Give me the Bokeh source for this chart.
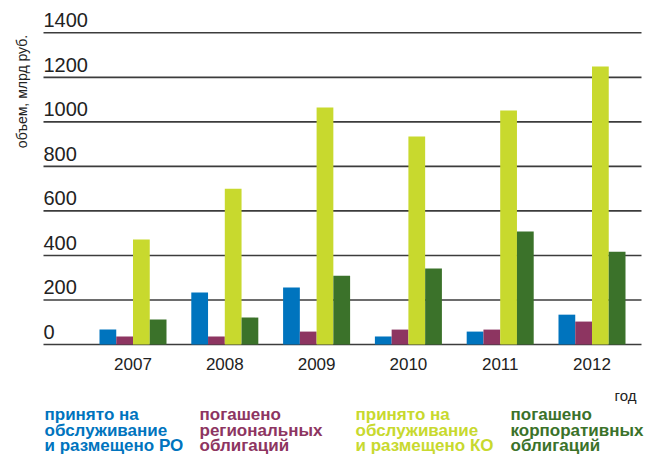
import math
from bokeh.plotting import figure
from bokeh.models import Range1d
from bokeh.core.properties import value
from bokeh.embed import file_html
from bokeh.resources import INLINE

# ---- data ----
years = ["2007", "2008", "2009", "2010", "2011", "2012"]
placed_ro = [67, 233, 256, 36, 58, 134]        # принято на обслуживание и размещено РО
repaid_ro = [36, 36, 58, 67, 67, 103]          # погашено региональных облигаций
placed_ko = [472, 700, 1065, 934, 1051, 1249]  # принято на обслуживание и размещено КО
repaid_ko = [112, 121, 309, 341, 507, 417]     # погашено корпоративных облигаций
y_ticks = [0, 200, 400, 600, 800, 1000, 1200, 1400]
y_tick_labels = ["0", "200", "400", "600", "800", "1000", "1200", "1400"]
legend_lines = [
    ["принято на", "обслуживание", "и размещено РО"],
    ["погашено", "региональных", "облигаций"],
    ["принято на", "обслуживание", "и размещено КО"],
    ["погашено", "корпоративных", "облигаций"],
]
colors = ["#0074BE", "#8D3561", "#C8D92E", "#3B722A"]
y_title = "объем, млрд руб."
x_title = "год"

W, H = 654, 457
# plot area mapping (pixels): value 0 at y=344, 1400 at y=32.3; group 0 at x=132.5, step 91.8
SX = 91.8          # px per category step
SY = 311.7 / 1400  # px per unit
X_AT0, Y_AT0 = 132.5, 344.0
x0 = -X_AT0 / SX
x1 = (W - X_AT0) / SX
y0 = -(H - Y_AT0) / SY
y1 = Y_AT0 / SY

p = figure(width=W, height=H, output_backend="svg", toolbar_location=None,
           x_range=Range1d(x0, x1), y_range=Range1d(y0, y1), min_border=0)
p.outline_line_color = None
p.background_fill_color = "white"
p.border_fill_color = "white"
p.xaxis.visible = False
p.yaxis.visible = False
p.xgrid.visible = False
p.ygrid.visible = False

def px2x(px):
    return (px - X_AT0) / SX

def py2y(py):
    return (Y_AT0 - py) / SY

def base(py, size):
    # compensate the renderer's baseline placement (text sits ~1/3 em low)
    return py2y(py - 0.33 * size)

# grid lines (from 43px to 641px)
gl, gr = px2x(43), px2x(641)
p.segment(x0=[gl] * len(y_ticks), x1=[gr] * len(y_ticks), y0=y_ticks, y1=y_ticks,
          line_color="#3c3c3c", line_width=1.6)

# bars
bw = 0.1825
xs = list(range(len(years)))
for k, (vals, c) in enumerate(zip([placed_ro, repaid_ro, placed_ko, repaid_ko], colors)):
    off = (k - 1.5) * bw
    p.vbar(x=[x + off for x in xs], top=vals, bottom=0, width=bw,
           fill_color=c, line_color=None)

# y tick labels sitting above gridlines
lift = (6 + 0.33 * 20) / SY
p.text(x=[gl] * len(y_ticks), y=[t + lift for t in y_ticks], text=y_tick_labels,
       text_font=value("Liberation Sans"), text_font_size="20px",
       text_color="#222222", text_baseline="alphabetic", text_align="left")

# year labels
p.text(x=xs, y=[base(369, 17)] * len(xs), text=years,
       text_font=value("Liberation Sans"), text_font_size="17px",
       text_color="#222222", text_baseline="alphabetic", text_align="center")

# y title
p.text(x=[px2x(21)], y=[py2y(91)], text=[y_title], angle=math.pi / 2,
       text_font=value("Liberation Sans"), text_font_size="14px",
       text_color="#222222", text_align="center", text_baseline="middle")

# x title
p.text(x=[px2x(614)], y=[base(400, 15)], text=[x_title],
       text_font=value("Liberation Sans"), text_font_size="15px",
       text_color="#222222", text_align="left", text_baseline="alphabetic")

# legend
leg_x = [44, 199, 355, 510]
leg_base = [420, 436, 451]
for lines, c, lx in zip(legend_lines, colors, leg_x):
    p.text(x=[px2x(lx)] * len(lines), y=[base(b, 17) for b in leg_base], text=lines,
           text_font=value("Liberation Sans"), text_font_size="17px",
           text_font_style="bold", text_color=c,
           text_align="left", text_baseline="alphabetic")

open("out.html", "w").write(file_html(p, INLINE))
